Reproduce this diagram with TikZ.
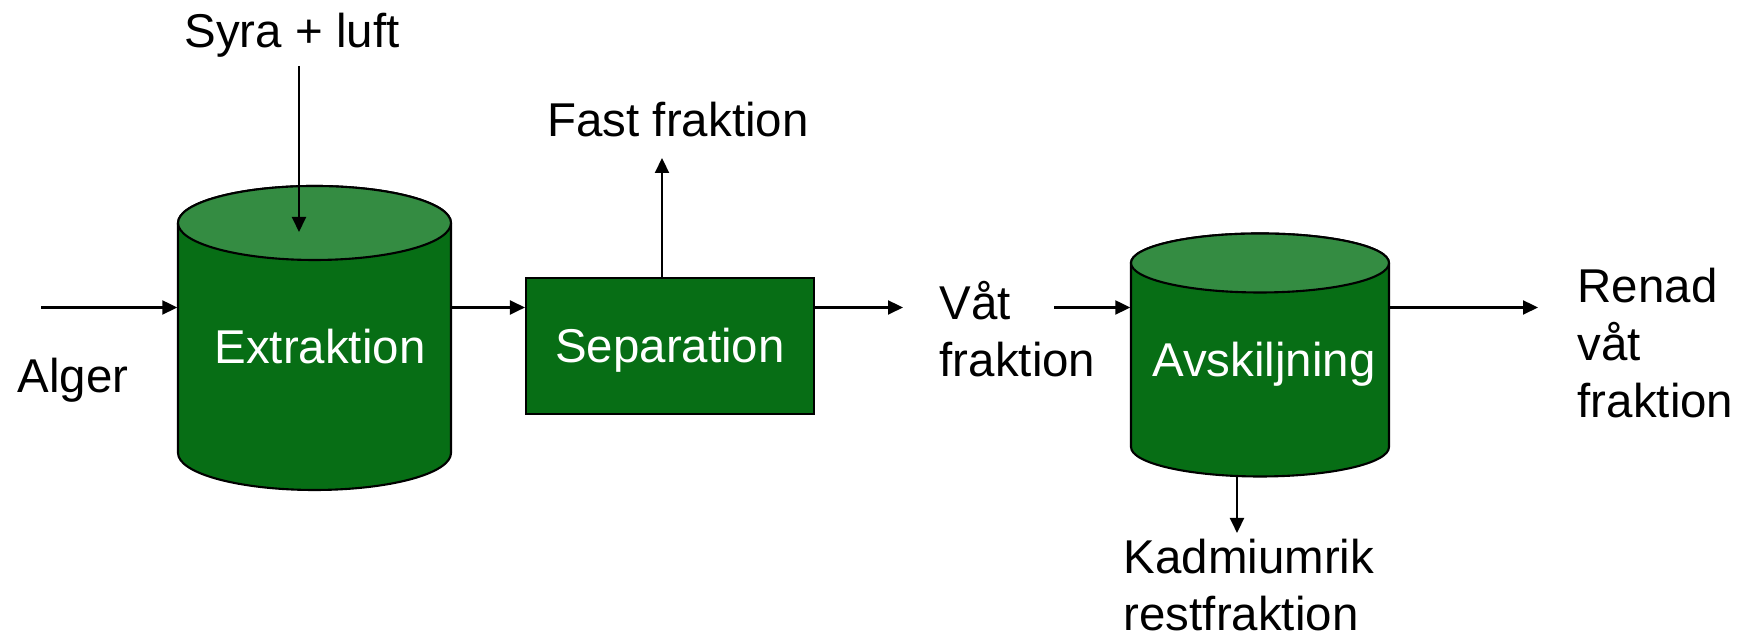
\documentclass[tikz,border=0pt]{standalone}
\usepackage{fontspec}
\setmainfont{Liberation Sans}
\usepackage{tikz}
\usetikzlibrary{arrows.meta,positioning,calc}

\definecolor{tankgreen}{RGB}{7,110,21}
\definecolor{lidgreen}{RGB}{52,140,66}

\tikzset{
  every node/.append style={font=\fontsize{13.5}{16.4}\selectfont},
  vessel/.style={draw=black, line width=0.6pt, fill=tankgreen},
  lid/.style={draw=black, line width=0.6pt, fill=lidgreen},
  flow/.style={draw=black, line width=0.6pt, -{Triangle[length=0.15cm,width=0.14cm]}},
  lbl/.style={inner sep=0, align=left},
  inlbl/.style={inner sep=0, text=white},
  hotspot/.style={inner sep=0, minimum width=#1}
}

\begin{document}
\begin{tikzpicture}
    \useasboundingbox (0,0) rectangle (17.44,6.36);

    % extraction tank
    \path[vessel] (1.78,4.13) -- (1.78,1.83)
      arc[start angle=180,end angle=360,x radius=1.365,y radius=0.37]
      -- (4.51,4.13)
      arc[start angle=0,end angle=180,x radius=1.365,y radius=0.37] -- cycle;
    \path[lid] (3.145,4.13) ellipse[x radius=1.365,y radius=0.37];
    \node (extr) [hotspot=2.73cm, minimum height=2.3cm] at (3.145,2.98) {};
    \node (extr-txt) [inlbl, anchor=base] at (3.20,2.72) {Extraktion};

    % separation box
    \node (sep) [vessel, inner sep=0, minimum width=2.88cm, minimum height=1.36cm] at (6.70,2.90) {};
    \node (sep-txt) [inlbl, anchor=base] at (6.70,2.73) {Separation};

    % separating tank
    \path[vessel] (11.31,3.73) -- (11.31,1.89)
      arc[start angle=180,end angle=360,x radius=1.29,y radius=0.295]
      -- (13.89,3.73)
      arc[start angle=0,end angle=180,x radius=1.29,y radius=0.295] -- cycle;
    \path[lid] (12.60,3.73) ellipse[x radius=1.29,y radius=0.295];
    \node (avsk) [hotspot=2.58cm, minimum height=1.84cm] at (12.60,2.81) {};
    \node (avsk-txt) [inlbl, anchor=base] at (12.64,2.59) {Avskiljning};

    % texts (multi-line ones sit on their last baseline)
    \node (syra) [lbl, anchor=base] at (2.92,5.88) {Syra + luft};
    \node (fast) [lbl, anchor=base] at (6.78,4.99) {Fast fraktion};
    \node (alger) [lbl, anchor=base west] at (0.17,2.43) {Alger};
    \node (vat) [lbl, anchor=base west] at (9.39,2.59) {Våt\\fraktion};
    \node (renad) [lbl, anchor=base west] at (15.77,2.18) {Renad\\våt\\fraktion};
    \node (kadm) [lbl, anchor=base west] at (11.23,0.05) {Kadmiumrik\\restfraktion};

    % free ends of the streams
    \coordinate (alg-in) at (0.41,3.285);
    \coordinate (syra-in) at (2.99,5.70);
    \coordinate (syra-end) at (2.99,4.04);
    \coordinate (fast-end) at (6.62,4.78);
    \coordinate (vat-end) at (9.03,3.285);
    \coordinate (vat-in) at (10.54,3.285);
    \coordinate (renad-end) at (15.38,3.285);
    \coordinate (kadm-out) at (12.37,1.61);
    \coordinate (kadm-end) at (12.37,1.03);

    \draw[flow] (alg-in) -- (alg-in -| extr.west);
    \draw[flow] (syra-in) -- (syra-end);
    \draw[flow] (extr.east |- alg-in) -- (sep.west |- alg-in);
    \draw[flow] (sep.north -| fast-end) -- (fast-end);
    \draw[flow] (sep.east |- vat-end) -- (vat-end);
    \draw[flow] (vat-in) -- (vat-in -| avsk.west);
    \draw[flow] (avsk.east |- renad-end) -- (renad-end);
    \draw[flow] (kadm-out) -- (kadm-end);
\end{tikzpicture}
\end{document}
